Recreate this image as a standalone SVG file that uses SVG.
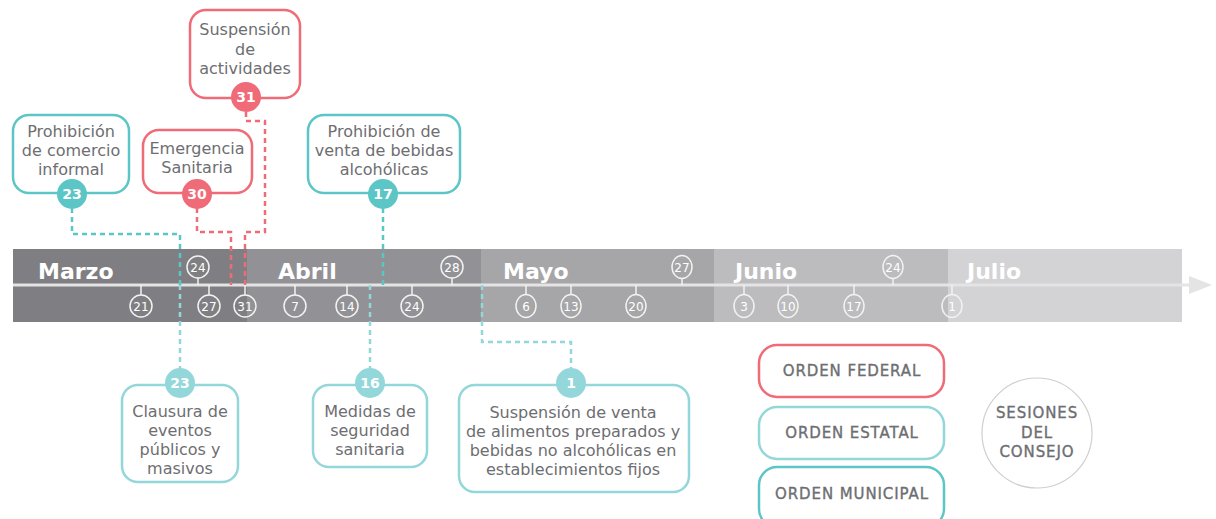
<svg xmlns="http://www.w3.org/2000/svg" width="1216" height="519" viewBox="0 0 1216 519">
<style>
.bg{fill:#ffffff}
.lbl{font-family:"DejaVu Sans","Open Sans",sans-serif;font-size:16px;fill:#6d6e71;text-anchor:middle}
.month{font-family:"DejaVu Sans","Open Sans",sans-serif;font-size:22px;font-weight:700;fill:#ffffff}
.day{font-family:"DejaVu Sans","Open Sans",sans-serif;font-size:12px;fill:#ffffff;text-anchor:middle}
.dc{fill:none;stroke:#f2f2f2;stroke-width:1.5}
.stalk{stroke:#f2f2f2;stroke-width:1.5}
.badge{font-family:"DejaVu Sans","Open Sans",sans-serif;font-size:14px;font-weight:700;fill:#ffffff;text-anchor:middle}
.leg{font-family:"DejaVu Sans","Open Sans",sans-serif;font-size:15px;fill:#6d6e71;stroke:#6d6e71;stroke-width:0.35;text-anchor:middle;letter-spacing:0.9px}
.fed{fill:#ffffff;stroke:#f06b78;stroke-width:2.5}
.est{fill:#ffffff;stroke:#93d7da;stroke-width:2.5}
.mun{fill:#ffffff;stroke:#5cc5c6;stroke-width:2.5}
.dfed{fill:none;stroke:#f06b78;stroke-width:2.5;stroke-dasharray:5 4}
.dest{fill:none;stroke:#93d7da;stroke-width:2.5;stroke-dasharray:5 4}
.dmun{fill:none;stroke:#5cc5c6;stroke-width:2.5;stroke-dasharray:5 4}
</style>
<rect class="bg" x="0" y="0" width="1216" height="519"/>

<g id="timeline">
  <rect x="13" y="249" width="234" height="73" fill="#7f7f83"/>
  <rect x="247" y="249" width="234" height="73" fill="#929296"/>
  <rect x="481" y="249" width="233" height="73" fill="#a6a6a9"/>
  <rect x="714" y="249" width="234" height="73" fill="#bcbcbe"/>
  <rect x="948" y="249" width="234" height="73" fill="#d3d3d5"/>
  <line x1="13" y1="285" x2="1195" y2="285" stroke="#e4e4e5" stroke-width="3"/>
  <polygon points="1189,276 1212,285 1189,294" fill="#e4e4e5"/>
  <text class="month" x="38" y="279">Marzo</text>
  <text class="month" x="278" y="279">Abril</text>
  <text class="month" x="503" y="279">Mayo</text>
  <text class="month" x="735" y="279">Junio</text>
  <text class="month" x="967" y="279">Julio</text>
</g>

<g id="days">
  <line class="stalk" x1="198" y1="278" x2="198" y2="285"/><circle class="dc" cx="198" cy="267" r="11"/><text class="day" x="198" y="271.5">24</text>
  <line class="stalk" x1="452" y1="278" x2="452" y2="285"/><circle class="dc" cx="452" cy="267" r="11"/><text class="day" x="452" y="271.5">28</text>
  <line class="stalk" x1="682" y1="278" x2="682" y2="285"/><ellipse class="dc" cx="682" cy="267" rx="10" ry="11.5"/><text class="day" x="682" y="271.5">27</text>
  <line class="stalk" x1="893" y1="278" x2="893" y2="285"/><ellipse class="dc" cx="893" cy="267" rx="10" ry="11.5"/><text class="day" x="893" y="271.5">24</text>
  <line class="stalk" x1="141" y1="285" x2="141" y2="295"/><circle class="dc" cx="141" cy="306" r="11"/><text class="day" x="141" y="310.5">21</text>
  <line class="stalk" x1="209" y1="285" x2="209" y2="295"/><circle class="dc" cx="209" cy="306" r="11"/><text class="day" x="209" y="310.5">27</text>
  <line class="stalk" x1="245" y1="285" x2="245" y2="295"/><circle class="dc" cx="245" cy="306" r="11"/><text class="day" x="245" y="310.5">31</text>
  <line class="stalk" x1="295" y1="285" x2="295" y2="295"/><circle class="dc" cx="295" cy="306" r="11"/><text class="day" x="295" y="310.5">7</text>
  <line class="stalk" x1="347" y1="285" x2="347" y2="295"/><circle class="dc" cx="347" cy="306" r="11"/><text class="day" x="347" y="310.5">14</text>
  <line class="stalk" x1="412" y1="285" x2="412" y2="295"/><circle class="dc" cx="412" cy="306" r="11"/><text class="day" x="412" y="310.5">24</text>
  <line class="stalk" x1="526" y1="285" x2="526" y2="295"/><ellipse class="dc" cx="526" cy="306" rx="10" ry="11.5"/><text class="day" x="526" y="310.5">6</text>
  <line class="stalk" x1="571" y1="285" x2="571" y2="295"/><ellipse class="dc" cx="571" cy="306" rx="10" ry="11.5"/><text class="day" x="571" y="310.5">13</text>
  <line class="stalk" x1="636" y1="285" x2="636" y2="295"/><ellipse class="dc" cx="636" cy="306" rx="10" ry="11.5"/><text class="day" x="636" y="310.5">20</text>
  <line class="stalk" x1="744" y1="285" x2="744" y2="295"/><ellipse class="dc" cx="744" cy="306" rx="10" ry="11.5"/><text class="day" x="744" y="310.5">3</text>
  <line class="stalk" x1="788" y1="285" x2="788" y2="295"/><ellipse class="dc" cx="788" cy="306" rx="10" ry="11.5"/><text class="day" x="788" y="310.5">10</text>
  <line class="stalk" x1="854" y1="285" x2="854" y2="295"/><ellipse class="dc" cx="854" cy="306" rx="10" ry="11.5"/><text class="day" x="854" y="310.5">17</text>
  <line class="stalk" x1="952" y1="285" x2="952" y2="295"/><ellipse class="dc" cx="952" cy="306" rx="10" ry="11.5"/><text class="day" x="952" y="310.5">1</text>
</g>

<g id="connectors">
  <path class="dmun" d="M72,208 V234 H180 V285"/>
  <path class="dest" d="M180,285 V368"/>
  <path class="dfed" d="M197,208 V232 H231 V285"/>
  <path class="dfed" d="M246,112 V121 H265 V232 H245 V285"/>
  <path class="dmun" d="M383,208 V285"/>
  <path class="dest" d="M370,285 V368"/>
  <path class="dest" d="M482,285 V342 H571 V368"/>
</g>

<g id="n-comercio">
  <rect class="mun" x="13" y="115" width="116" height="78" rx="16"/>
  <text class="lbl" x="71" y="137">Prohibición</text>
  <text class="lbl" x="71" y="156">de comercio</text>
  <text class="lbl" x="71" y="175">informal</text>
  <circle cx="72" cy="194" r="15" fill="#5cc5c6"/>
  <text class="badge" x="72" y="199">23</text>
</g>

<g id="n-emergencia">
  <rect class="fed" x="143" y="130" width="109" height="63" rx="16"/>
  <text class="lbl" x="197" y="154">Emergencia</text>
  <text class="lbl" x="197" y="173">Sanitaria</text>
  <circle cx="197" cy="194" r="15" fill="#f06b78"/>
  <text class="badge" x="197" y="199">30</text>
</g>

<g id="n-suspension-act">
  <rect class="fed" x="190" y="10" width="110" height="88" rx="16"/>
  <text class="lbl" x="245" y="35">Suspensión</text>
  <text class="lbl" x="245" y="55">de</text>
  <text class="lbl" x="245" y="74">actividades</text>
  <circle cx="246" cy="97" r="15" fill="#f06b78"/>
  <text class="badge" x="246" y="102">31</text>
</g>

<g id="n-alcohol">
  <rect class="mun" x="308" y="115" width="152" height="78" rx="16"/>
  <text class="lbl" x="384" y="137">Prohibición de</text>
  <text class="lbl" x="384" y="156">venta de bebidas</text>
  <text class="lbl" x="384" y="175">alcohólicas</text>
  <circle cx="383" cy="194" r="15" fill="#5cc5c6"/>
  <text class="badge" x="383" y="199">17</text>
</g>

<g id="n-clausura">
  <rect class="est" x="122" y="385" width="116" height="97" rx="16"/>
  <text class="lbl" x="180" y="417">Clausura de</text>
  <text class="lbl" x="180" y="436">eventos</text>
  <text class="lbl" x="180" y="455">públicos y</text>
  <text class="lbl" x="180" y="474">masivos</text>
  <circle cx="180" cy="383" r="15" fill="#93d7da"/>
  <text class="badge" x="180" y="388">23</text>
</g>

<g id="n-medidas">
  <rect class="est" x="313" y="385" width="114" height="82" rx="16"/>
  <text class="lbl" x="370" y="417">Medidas de</text>
  <text class="lbl" x="370" y="436">seguridad</text>
  <text class="lbl" x="370" y="455">sanitaria</text>
  <circle cx="370" cy="383" r="15" fill="#93d7da"/>
  <text class="badge" x="370" y="388">16</text>
</g>

<g id="n-alimentos">
  <rect class="est" x="459" y="385" width="230" height="107" rx="16"/>
  <text class="lbl" x="573" y="418">Suspensión de venta</text>
  <text class="lbl" x="573" y="437">de alimentos preparados y</text>
  <text class="lbl" x="573" y="456">bebidas no alcohólicas en</text>
  <text class="lbl" x="573" y="475">establecimientos fijos</text>
  <circle cx="571" cy="383" r="15" fill="#93d7da"/>
  <text class="badge" x="571" y="388">1</text>
</g>

<g id="legend-federal">
  <rect class="fed" x="759" y="345" width="185" height="52" rx="18"/>
  <text class="leg" x="852" y="376">ORDEN FEDERAL</text>
</g>
<g id="legend-estatal">
  <rect class="est" x="759" y="407" width="185" height="52" rx="18"/>
  <text class="leg" x="852" y="438">ORDEN ESTATAL</text>
</g>
<g id="legend-municipal">
  <rect class="mun" x="759" y="467" width="185" height="60" rx="18"/>
  <text class="leg" x="852" y="499">ORDEN MUNICIPAL</text>
</g>
<g id="legend-sesiones">
  <circle cx="1037" cy="433" r="55" fill="#ffffff" stroke="#cfcfd0" stroke-width="1.2"/>
  <text class="leg" x="1037" y="418">SESIONES</text>
  <text class="leg" x="1037" y="438">DEL</text>
  <text class="leg" x="1037" y="457">CONSEJO</text>
</g>
</svg>
